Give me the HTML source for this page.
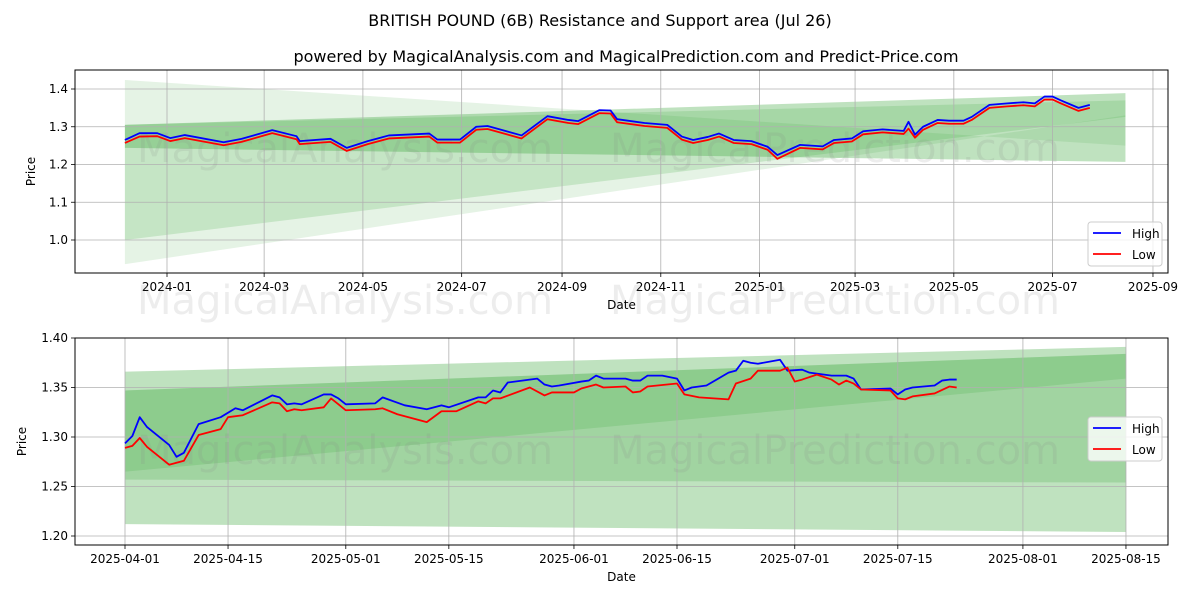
<!DOCTYPE html>
<html><head><meta charset="utf-8"><style>
body{margin:0;background:#fff;}
svg{display:block;font-family:"DejaVu Sans","Liberation Sans",sans-serif;}
</style></head><body>
<svg id="c" width="1200" height="600" viewBox="0 0 1200 600">
<text x="600" y="26" text-anchor="middle" font-size="16">BRITISH POUND (6B) Resistance and Support area (Jul 26)</text>
<text x="626" y="62" text-anchor="middle" font-size="16">powered by MagicalAnalysis.com and MagicalPrediction.com and Predict-Price.com</text>
</svg>
<script>
// ---- top chart data (days from 2024-01-01) ----
const topDays=[-26,-17,-6,2,11,35,46,65,80,82,101,111,124,137,162,167,181,191,198,219,235,248,254,267,274,278,295,309,318,325,334,341,350,361,371,377,391,405,412,423,430,442,455,458,462,467,476,483,492,497,508,519,529,536,542,547,552,563,570];
const topHigh=[1.265,1.283,1.283,1.27,1.278,1.259,1.268,1.291,1.275,1.262,1.268,1.244,1.262,1.277,1.282,1.266,1.266,1.30,1.302,1.277,1.328,1.318,1.315,1.344,1.343,1.32,1.31,1.305,1.274,1.265,1.273,1.282,1.265,1.262,1.247,1.225,1.252,1.248,1.265,1.269,1.288,1.293,1.289,1.313,1.279,1.30,1.318,1.316,1.316,1.326,1.358,1.362,1.365,1.362,1.380,1.380,1.37,1.35,1.358];
const topLow=[1.257,1.274,1.275,1.262,1.27,1.251,1.26,1.283,1.267,1.254,1.26,1.236,1.254,1.269,1.274,1.258,1.258,1.292,1.294,1.269,1.32,1.31,1.307,1.336,1.335,1.312,1.302,1.297,1.266,1.257,1.265,1.274,1.257,1.254,1.239,1.215,1.244,1.24,1.257,1.261,1.28,1.285,1.281,1.295,1.271,1.292,1.31,1.308,1.308,1.318,1.35,1.354,1.357,1.354,1.372,1.372,1.362,1.342,1.35];
const topTickDays=[0,60,121,182,244,305,366,425,486,547,609];
const topTickLabels=["2024-01","2024-03","2024-05","2024-07","2024-09","2024-11","2025-01","2025-03","2025-05","2025-07","2025-09"];
const topYTicks=[1.0,1.1,1.2,1.3,1.4];
const topBandDays=[-26,592];
const topBands=[[1.424,0.936,1.25,1.33],[1.305,1.0,1.37,1.326],[1.305,1.244,1.389,1.207]];
// ---- bottom chart data (days from 2025-04-01) ----
const botDaysH=[0,1,2,3,6,7,8,10,13,15,16,20,21,22,23,24,27,28,29,30,34,35,38,41,43,44,48,49,50,51,52,56,57,58,59,62,63,64,65,68,69,70,71,73,75,76,77,79,82,83,84,85,86,89,90,92,93,96,98,99,100,104,105,106,107,110,111,112,113];
const botHigh=[1.2936,1.301,1.320,1.310,1.292,1.280,1.284,1.313,1.320,1.329,1.327,1.342,1.340,1.333,1.334,1.333,1.343,1.343,1.339,1.333,1.334,1.340,1.332,1.328,1.332,1.330,1.340,1.340,1.347,1.345,1.355,1.359,1.353,1.351,1.352,1.356,1.357,1.362,1.359,1.359,1.357,1.357,1.362,1.362,1.359,1.347,1.350,1.352,1.365,1.367,1.377,1.375,1.374,1.378,1.367,1.368,1.365,1.362,1.362,1.359,1.348,1.349,1.343,1.348,1.350,1.352,1.357,1.358,1.358];
const botDaysL=[0,1,2,3,6,8,10,13,14,16,20,21,22,23,24,27,28,29,30,34,35,37,41,43,45,48,49,50,51,55,57,58,61,62,64,65,68,69,70,71,75,76,78,80,82,83,85,86,89,90,91,92,94,96,97,98,99,100,104,105,106,107,110,112,113];
const botLow=[1.289,1.291,1.299,1.290,1.272,1.276,1.302,1.308,1.320,1.322,1.335,1.334,1.326,1.328,1.327,1.330,1.339,1.333,1.327,1.328,1.329,1.323,1.315,1.326,1.326,1.336,1.334,1.339,1.339,1.350,1.342,1.345,1.345,1.349,1.353,1.350,1.351,1.345,1.346,1.351,1.354,1.343,1.340,1.339,1.338,1.354,1.359,1.367,1.367,1.370,1.356,1.358,1.363,1.358,1.353,1.357,1.354,1.348,1.347,1.339,1.338,1.341,1.344,1.351,1.350];
const botTickDays=[0,14,30,44,61,75,91,105,122,136];
const botTickLabels=["2025-04-01","2025-04-15","2025-05-01","2025-05-15","2025-06-01","2025-06-15","2025-07-01","2025-07-15","2025-08-01","2025-08-15"];
const botYTicks=[1.20,1.25,1.30,1.35,1.40];
const botBandDays=[0,136];
const botBands=[[1.366,1.212,1.391,1.204],[1.347,1.265,1.384,1.359],[1.347,1.257,1.384,1.254]];

const svg=document.getElementById('c');
const NS='http://www.w3.org/2000/svg';
function mk(tag,attrs,parent){const e=document.createElementNS(NS,tag);for(const k in attrs)e.setAttribute(k,attrs[k]);(parent||svg).appendChild(e);return e;}

function panel(cfg){
  const {L,R,T,B,x,y,name}=cfg;
  const g=mk('g',{});
  
  
  cfg.bands.forEach((b,i)=>{
    const x0=x(cfg.bandDays[0]),x1=x(cfg.bandDays[1]);
    const p=mk('polygon',{points:`${x0},${y(b[0])} ${x1},${y(b[2])} ${x1},${y(b[3])} ${x0},${y(b[1])}`,fill:'#2ca02c','fill-opacity':cfg.alphas[i]},g);
    
    
  });
  cfg.xt.forEach((d,i)=>{
    const X=x(d);
    mk('line',{x1:X,x2:X,y1:T,y2:B,stroke:'#b0b0b0','stroke-width':0.8},g);
    mk('line',{x1:X,x2:X,y1:B,y2:B+4,stroke:'#000','stroke-width':0.8},g);
    const t=mk('text',{x:X,y:B+18,'text-anchor':'middle','font-size':12},g);t.textContent=cfg.xl[i];
    
    
  });
  cfg.yt.forEach(v=>{
    const Y=y(v);
    mk('line',{x1:L,x2:R,y1:Y,y2:Y,stroke:'#b0b0b0','stroke-width':0.8},g);
    mk('line',{x1:L-4,x2:L,y1:Y,y2:Y,stroke:'#000','stroke-width':0.8},g);
    const t=mk('text',{x:L-7,y:Y+4,'text-anchor':'end','font-size':12},g);t.textContent=v.toFixed(cfg.dec);
    
    
  });
  cfg.wm.forEach(w=>{const t=mk('text',{x:w[0],y:w[1],'text-anchor':'middle','font-size':40,fill:'#888','fill-opacity':0.15},g);t.textContent=w[2];
    
    });
  const hp=cfg.hd.map((d,i)=>x(d)+','+y(cfg.hv[i])).join(' ');
  const lp=cfg.ld.map((d,i)=>x(d)+','+y(cfg.lv[i])).join(' ');
  const hl=mk('polyline',{points:hp,fill:'none',stroke:'#0000ff','stroke-width':1.8,'stroke-linejoin':'round'},g);
  
  
  const ll=mk('polyline',{points:lp,fill:'none',stroke:'#ff0000','stroke-width':1.8,'stroke-linejoin':'round'},g);
  
  
  mk('rect',{x:L,y:T,width:R-L,height:B-T,fill:'none',stroke:'#000','stroke-width':1},g);
  const xt=mk('text',{x:(L+R)/2,y:B+36,'text-anchor':'middle','font-size':12},g);xt.textContent='Date';
  
  
  const yT=mk('text',{x:0,y:0,'text-anchor':'middle','font-size':12,transform:`translate(${cfg.ylx},${(T+B)/2}) rotate(-90)`},g);yT.textContent='Price';
  
  
  const lg=mk('g',{},g);
  
  
  const ly=cfg.legY;
  mk('rect',{x:1088,y:ly,width:74,height:44,rx:3,fill:'#fff','fill-opacity':0.8,stroke:'#ccc'},lg);
  mk('line',{x1:1093,x2:1121,y1:ly+11,y2:ly+11,stroke:'#0000ff','stroke-width':1.8},lg);
  mk('line',{x1:1093,x2:1121,y1:ly+32,y2:ly+32,stroke:'#ff0000','stroke-width':1.8},lg);
  const t1=mk('text',{x:1132,y:ly+16,'font-size':12},lg);t1.textContent='High';
  
  
  const t2=mk('text',{x:1132,y:ly+37,'font-size':12},lg);t2.textContent='Low';
  
  
}
const tx=d=>167+d*1.619, ty=v=>89+(1.4-v)*377.5;
panel({name:'top',L:75,R:1168,T:70,B:273,x:tx,y:ty,bands:topBands,bandDays:topBandDays,alphas:[0.12,0.17,0.3],
  xt:topTickDays,xl:topTickLabels,yt:topYTicks,dec:1,hd:topDays,hv:topHigh,ld:topDays,lv:topLow,ylx:35,legY:222,
  wm:[[345,162,'MagicalAnalysis.com'],[835,162,'MagicalPrediction.com'],[345,314,'MagicalAnalysis.com'],[835,314,'MagicalPrediction.com']]});
const bx=d=>125+d*7.36, by=v=>338+(1.4-v)*990;
panel({name:'bottom',L:75,R:1168,T:338,B:545,x:bx,y:by,bands:botBands,bandDays:botBandDays,alphas:[0.3,0.17,0.2],
  xt:botTickDays,xl:botTickLabels,yt:botYTicks,dec:2,hd:botDaysH,hv:botHigh,ld:botDaysL,lv:botLow,ylx:26,legY:417,
  wm:[[345,464,'MagicalAnalysis.com'],[835,464,'MagicalPrediction.com']]});
</script>
</body></html>
